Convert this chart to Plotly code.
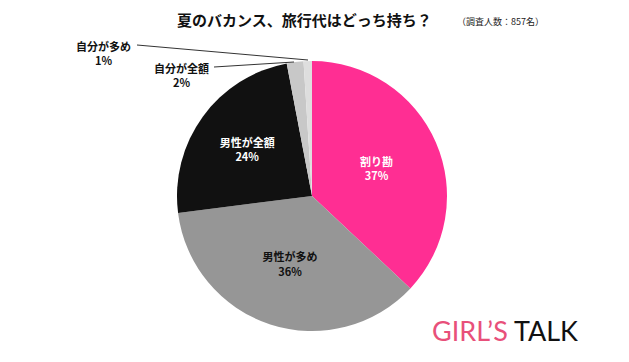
import plotly.graph_objects as go

labels = ["割り勘", "男性が多め", "男性が全額", "自分が全額", "自分が多め"]
values = [37, 36, 24, 2, 1]
colors = ["#FF2E93", "#969696", "#111111", "#C8C8C8", "#DEDEDE"]
text_colors = ["#FFFFFF", "#111111", "#FFFFFF", "#111111", "#111111"]

W, H = 629, 362
FONT = "Noto Sans CJK JP"

texts = [f"<b>{l}<br>{v}%</b>" if v >= 5 else "" for l, v in zip(labels, values)]

fig = go.Figure(go.Pie(
    labels=labels,
    values=values,
    sort=False,
    direction="clockwise",
    rotation=0,
    marker=dict(colors=colors, line=dict(width=0)),
    text=texts,
    textinfo="text",
    textposition="inside",
    insidetextorientation="horizontal",
    insidetextfont=dict(family=FONT, size=11, color=text_colors),
    domain=dict(x=[177 / W, 447 / W], y=[(H - 331) / H, (H - 61) / H]),
    showlegend=False,
    hoverinfo="skip",
))

anns = [
    dict(x=304 / W, y=1 - 19 / H, text="<b>夏のバカンス、旅行代はどっち持ち？</b>",
         font=dict(family=FONT, size=15, color="#111")),
    dict(x=500 / W, y=1 - 22 / H, text="（調査人数：857名）",
         font=dict(family=FONT, size=9, color="#222")),
    dict(x=104 / W, y=1 - 53 / H, text=f"<b>{labels[4]}<br>{values[4]}%</b>",
         font=dict(family=FONT, size=11, color="#111")),
    dict(x=181 / W, y=1 - 75 / H, text=f"<b>{labels[3]}<br>{values[3]}%</b>",
         font=dict(family=FONT, size=11, color="#111")),
    dict(x=505 / W, y=1 - 330 / H,
         text="<span style='color:#E8507A'>GIRL’S</span><span style='color:#111'> TALK</span>",
         font=dict(family="Lato", size=27)),
]
for a in anns:
    a.update(xref="paper", yref="paper", showarrow=False, xanchor="center", yanchor="middle")

shapes = [
    dict(type="line", xref="paper", yref="paper",
         x0=137 / W, y0=1 - 45 / H, x1=308 / W, y1=1 - 60 / H,
         line=dict(color="#333", width=1)),
    dict(type="line", xref="paper", yref="paper",
         x0=214 / W, y0=1 - 67 / H, x1=294 / W, y1=1 - 62 / H,
         line=dict(color="#333", width=1)),
]

fig.update_layout(
    width=W, height=H,
    margin=dict(l=0, r=0, t=0, b=0),
    paper_bgcolor="white", plot_bgcolor="white",
    annotations=anns, shapes=shapes,
)

fig.write_html("out.html", config={"displayModeBar": False},
               post_script="document.body.style.margin='0';document.body.style.padding='0';")
